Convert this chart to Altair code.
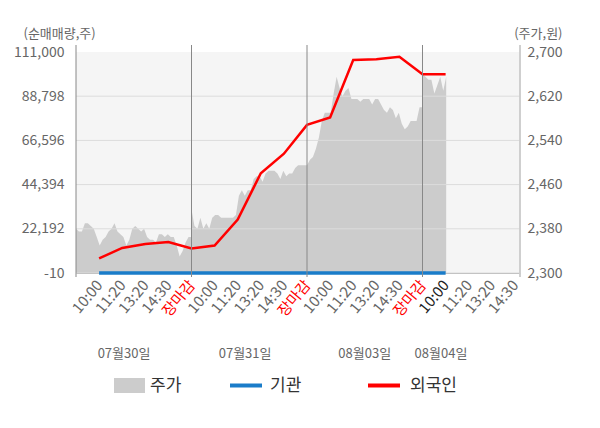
import altair as alt
import pandas as pd

# ---------------- data ----------------
days = ["07월30일", "07월31일", "08월03일", "08월04일"]
day_start_slot = [0, 5, 10, 15]
date_label_slot = [2.08, 7.32, 12.5, 15.8]

# 주가 (price), 10-minute samples from 09:00 (5 slots per trading day)
price_d1 = [2380, 2375, 2375, 2390, 2390, 2385, 2380, 2365, 2350, 2360,
            2365, 2375, 2380, 2390, 2375, 2370, 2365, 2350, 2360, 2380,
            2385, 2380, 2375, 2380, 2365, 2360, 2360, 2355, 2370, 2370,
            2365, 2370, 2365, 2365, 2350, 2330, 2340, 2355, 2365, 2365]
price_d2 = [2415, 2385, 2380, 2400, 2380, 2390, 2380, 2400, 2405, 2405,
            2400, 2400, 2400, 2400, 2400, 2405, 2440, 2450, 2440, 2450,
            2450, 2470, 2475, 2475, 2465, 2480, 2485, 2485, 2485, 2480,
            2470, 2485, 2475, 2480, 2480, 2490, 2495, 2495, 2495, 2495]
price_d3 = [2495, 2505, 2510, 2525, 2545, 2575, 2590, 2590, 2590, 2625,
            2655, 2635, 2620, 2630, 2635, 2615, 2615, 2615, 2610, 2615,
            2615, 2615, 2605, 2615, 2615, 2605, 2595, 2590, 2600, 2595,
            2580, 2590, 2570, 2560, 2565, 2575, 2575, 2575, 2600, 2600]
price_d4 = [2660, 2655, 2650, 2650, 2625, 2640, 2655, 2630, 2655]
prices_by_day = [price_d1, price_d2, price_d3, price_d4]
STEPS_PER_DAY = 39

# 순매매량 (cumulative net trading), one point per labelled slot
flow_slot = list(range(1, 17))
foreign = [7300, 12600, 14500, 15600, 12300, 13800, 26800, 50100,
           59900, 74400, 78100, 107000, 107400, 108600, 99800, 99800]
institution = [0, 0, 0, 0, 0, 0, 0, 0, 0, 0, 0, 0, 0, 0, 0, 0]

tick_slot = list(range(1, 20))
tick_labels = ["10:00", "11:20", "13:20", "14:30", "장마감",
               "10:00", "11:20", "13:20", "14:30", "장마감",
               "10:00", "11:20", "13:20", "14:30", "장마감",
               "10:00", "11:20", "13:20", "14:30"]
qty_ticks = [-10, 22192, 44394, 66596, 88798, 111000]
qty_tick_labels = ["-10", "22,192", "44,394", "66,596", "88,798", "111,000"]
price_ticks = [2300, 2380, 2460, 2540, 2620, 2700]
price_tick_labels = ["2,300", "2,380", "2,460", "2,540", "2,620", "2,700"]

legend_names = ["주가", "기관", "외국인"]
legend_colors = ["#cccccc", "#1a7cc9", "#ff0000"]

# ---------------- tables ----------------
rows = []
for d, series in enumerate(prices_by_day):
    for k, p in enumerate(series):
        rows.append({"slot": day_start_slot[d] + 5 * k / STEPS_PER_DAY,
                     "price": p, "base": price_ticks[0]})
price_df = pd.DataFrame(rows)
flow_df = pd.DataFrame({"slot": flow_slot, "foreign": foreign,
                        "inst": institution})
grid_df = pd.DataFrame({"value": qty_ticks[:-1]})
sep_df = pd.DataFrame({"slot": day_start_slot})
date_df = pd.DataFrame({"slot": date_label_slot, "label": days})


def lookup_expr(values, labels):
    s = "''"
    for v, l in reversed(list(zip(values, labels))):
        s = f"datum.value == {v} ? '{l}' : ({s})"
    return s


W, H = 444, 221
FONT = "Noto Sans CJK KR"

x_scale = alt.Scale(domain=[0, 19.22], nice=False, zero=False)
x_axis = alt.Axis(values=tick_slot, labelExpr=lookup_expr(tick_slot, tick_labels),
                  labelAngle=-50, labelAlign="right", labelBaseline="middle",
                  labelFontSize=15, labelPadding=9,
                  labelColor={"condition": [
                      {"test": "datum.value == 16", "value": "#222222"},
                      {"test": "datum.value % 5 == 0", "value": "#ff0000"}],
                      "value": "#666666"},
                  ticks=False, grid=False, domain=True, domainColor="#aaaaaa",
                  labelOverlap=False, labelFlush=False)
X = alt.X("slot:Q", scale=x_scale, axis=x_axis, title=None)

qty_scale = alt.Scale(domain=[qty_ticks[0], qty_ticks[-1]], nice=False, zero=False)
left_axis = alt.Axis(orient="left", values=qty_ticks,
                     labelExpr=lookup_expr(qty_ticks, qty_tick_labels),
                     labelFontSize=14, labelColor="#666666", labelPadding=12,
                     domain=False, ticks=False, grid=False,
                     title="(순매매량,주)", titleAngle=0, titleX=-53, titleY=-19,
                     titleAlign="left", titleBaseline="middle", titleFontSize=13,
                     titleFontWeight="normal", titleColor="#666666")
price_scale = alt.Scale(domain=[price_ticks[0], price_ticks[-1]], nice=False, zero=False)
right_axis = alt.Axis(orient="right", values=price_ticks,
                      labelExpr=lookup_expr(price_ticks, price_tick_labels),
                      labelFontSize=14, labelColor="#666666", labelPadding=7,
                      domain=False, ticks=False, grid=False,
                      title="(주가,원)", titleAngle=0, titleX=42, titleY=-19,
                      titleAlign="right", titleBaseline="middle", titleFontSize=13,
                      titleFontWeight="normal", titleColor="#666666")

area = alt.Chart(price_df).mark_area(color="#cccccc", opacity=1).encode(
    x=X,
    y=alt.Y("price:Q", scale=price_scale, axis=right_axis),
    y2="base:Q",
)

Yq = alt.Y("value:Q", scale=qty_scale, axis=left_axis)
grid = alt.Chart(grid_df).mark_rule(color="#dcdcdc", strokeWidth=1).encode(y=Yq)
inst_line = alt.Chart(flow_df).transform_calculate(value="datum.inst").mark_line(
    color="#1a7cc9", strokeWidth=3.5).encode(x=X, y=Yq)
foreign_line = alt.Chart(flow_df).transform_calculate(value="datum.foreign").mark_line(
    color="#ff0000", strokeWidth=2.5).encode(x=X, y=Yq)
left_group = alt.layer(grid, inst_line, foreign_line)

seps = alt.Chart(sep_df).mark_rule(color="#888888", strokeWidth=1).encode(
    x=X, y=alt.value(-7), y2=alt.value(H + 4))
right_line = alt.Chart(sep_df).mark_rule(color="#cccccc", strokeWidth=1).encode(
    x=alt.value(W), y=alt.value(-7), y2=alt.value(H + 4))
dates = alt.Chart(date_df).mark_text(fontSize=13, color="#666666", align="center",
                                     baseline="middle", font=FONT).encode(
    x=X, y=alt.value(302), text="label:N")

# legend
lg_rect = alt.Chart(pd.DataFrame({"n": [legend_names[0]]})).mark_rect(
    color=legend_colors[0]).encode(
    x=alt.value(38), x2=alt.value(69), y=alt.value(326), y2=alt.value(341))
lg_blue = alt.Chart(pd.DataFrame({"n": [legend_names[1]]})).mark_rule(
    color=legend_colors[1], strokeWidth=4).encode(
    x=alt.value(154), x2=alt.value(186), y=alt.value(333.5))
lg_red = alt.Chart(pd.DataFrame({"n": [legend_names[2]]})).mark_rule(
    color=legend_colors[2], strokeWidth=4).encode(
    x=alt.value(292), x2=alt.value(324), y=alt.value(333.5))
lg_text = alt.Chart(pd.DataFrame({"n": legend_names, "px": [74, 194, 334]})).mark_text(
    fontSize=17, color="#333333", align="left", baseline="middle", font=FONT).encode(
    x=alt.X("px:Q", scale=None), y=alt.value(333.5), text="n:N")

chart = alt.layer(area, left_group, seps, right_line, dates,
                  lg_rect, lg_blue, lg_red, lg_text).resolve_scale(
    y="independent"
).properties(
    width=W, height=H,
    autosize=alt.AutoSizeParams(type="none"),
    padding={"left": 68, "top": 44, "right": 72, "bottom": 147},
).configure(font=FONT).configure_view(fill="#f5f5f5", stroke=None)

chart.save("out.html", embed_options={"renderer": "svg", "actions": False})
